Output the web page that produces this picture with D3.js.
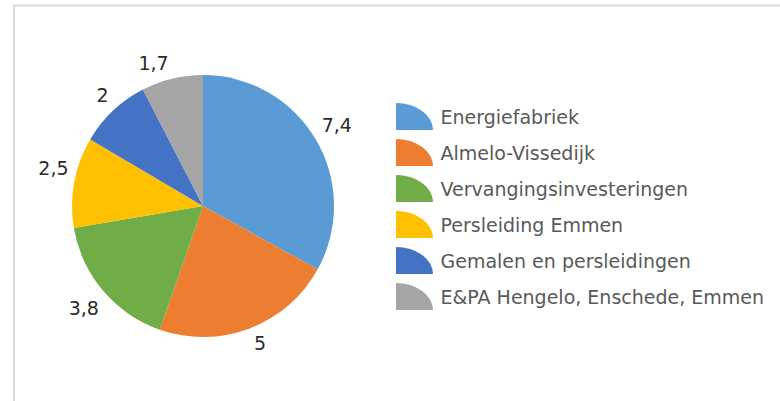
<!DOCTYPE html>
<html><head><meta charset="utf-8">
<script src="https://cdn.jsdelivr.net/npm/d3@7"></script>
<style>html,body{margin:0;padding:0;background:#fff;overflow:hidden}</style>
</head><body>
<svg id="c" width="780" height="401"></svg>
<script>
const categories = ["Energiefabriek","Almelo-Vissedijk","Vervangingsinvesteringen","Persleiding Emmen","Gemalen en persleidingen","E&PA Hengelo, Enschede, Emmen"];
const values = [7.4, 5, 3.8, 2.5, 2, 1.7];
const colors = ["#5B9BD5","#ED7D31","#70AD47","#FFC000","#4472C4","#A5A5A5"];

const svg = d3.select("#c");
svg.append("rect").attr("x",14).attr("y",5.5).attr("width",800).attr("height",420)
  .attr("fill","none").attr("stroke","#d9d9d9").attr("stroke-width",2);

const cx = 203, cy = 206, r = 131;
const pie = d3.pie().sort(null).value(d => d)(values);
const arc = d3.arc().innerRadius(0).outerRadius(r);
const g = svg.append("g").attr("transform",`translate(${cx},${cy})`);
g.selectAll("path").data(pie).join("path").attr("d",arc).attr("fill",(d,i)=>colors[i]);

// small layout nudges for label placement (style, not data)
const labelNudge = [[-1,-1],[4,-2],[0,1.5],[4,-10],[2,-2.5],[-14,3]];
const fmt = v => String(v).replace(".", ",");
const gap = 9, halfH = 7;
g.selectAll("text").data(pie).join("text")
  .attr("text-anchor","middle")
  .attr("font-family","DejaVu Sans").attr("font-size",19).attr("fill","#2b2b2b")
  .text(d => fmt(d.data))
  .each(function(d,i){
    const w = this.getComputedTextLength();
    const a = (d.startAngle + d.endAngle)/2;
    const s = Math.sin(a), c = Math.cos(a);
    const ext = Math.abs(s)*w/2 + Math.abs(c)*halfH;
    const dist = r + gap + ext;
    d3.select(this).attr("x", s*dist + labelNudge[i][0]).attr("y", -c*dist + halfH + labelNudge[i][1]);
  });

const legend = svg.append("g");
const iconArc = d3.arc().innerRadius(0).outerRadius(1).startAngle(0).endAngle(Math.PI/2);
const rows = legend.selectAll("g").data(categories).join("g")
  .attr("transform",(d,i)=>`translate(396,${130 + i*36})`);
rows.append("path").attr("d", iconArc()).attr("transform","scale(37,27)")
  .attr("fill",(d,i)=>colors[i]);
rows.append("text").attr("x",44.5).attr("y",-6.5)
  .attr("font-family","DejaVu Sans").attr("font-size",19).attr("fill","#595959")
  .text(d=>d);
</script>
</body></html>
